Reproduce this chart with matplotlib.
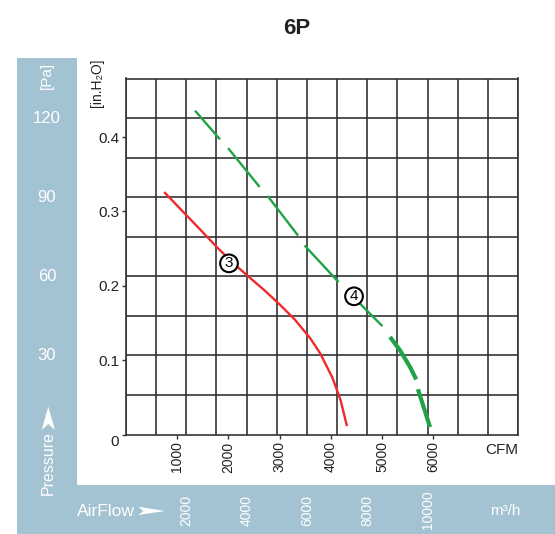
import matplotlib
matplotlib.use("Agg")
import matplotlib.pyplot as plt
from matplotlib.patches import Rectangle, Polygon
from matplotlib.transforms import blended_transform_factory
import numpy as np

plt.rcParams['font.family'] = ['Liberation Sans Narrow', 'Liberation Sans', 'DejaVu Sans']
plt.rcParams['lines.scale_dashes'] = False

# ---- data (x in m3/h, y in Pa on the chart grid) ----
red_x = [1293, 1890, 2454, 3051, 3671, 4112, 4610, 5107, 5605, 6102, 6434, 6848, 7114, 7319]
red_y = [91.6, 84.5, 77.8, 70.6, 63.8, 59.4, 54.5, 49.2, 43.5, 36.6, 30.9, 21.5, 13.1, 3.6]

green_x = [2289, 3118, 3393, 4444, 4720, 5715, 5937, 7098, 7761, 8590, 8756, 9088, 9420, 9642, 9695, 10083]
green_y = [122.8, 111.9, 108.5, 93.7, 90.1, 75.3, 71.5, 57.2, 49.6, 40.1, 37.0, 31.9, 25.6, 20.5, 16.7, 2.8]

cfm_ticks = [1000, 2000, 3000, 4000, 5000, 6000]
m3h_ticks = [2000, 4000, 6000, 8000, 10000]
inh2o_ticks = [0.1, 0.2, 0.3, 0.4]
inh2o_labels = ['0.1', '0.2', '0.3', '0.4']
pa_ticks = [30, 60, 90, 120]

CFM_TO_M3H = 1.699
INH2O_TO_GRID = 282.0

panel = '#a4c3d2'
gridc = '#333333'

W, H = 555, 534
def fx(px):
    return px / W
def fy(py):
    return 1 - py / H

fig = plt.figure(figsize=(5.55, 5.34), dpi=100)
# background panels
fig.add_artist(Rectangle((fx(16.7), 0), 60 / W, (H - 58) / H, transform=fig.transFigure,
                         facecolor=panel, edgecolor='none', zorder=0))
fig.add_artist(Rectangle((fx(16.7), 0), (W - 16.7) / W, (H - 485) / H, transform=fig.transFigure,
                         facecolor=panel, edgecolor='none', zorder=0))

ax = fig.add_axes([fx(126), fy(434.5), 392 / W, 356 / H])
ax.set_xlim(0, 13000)
ax.set_ylim(0, 135)
ax.patch.set_alpha(0)

ax.set_xticks(np.arange(0, 13001, 1000), minor=True)
ax.set_yticks(np.arange(0, 136, 15), minor=True)
ax.grid(which='minor', color=gridc, linewidth=1.2)
ax.tick_params(which='minor', length=0)
for s in ax.spines.values():
    s.set_color(gridc)
    s.set_linewidth(1.2)

ax.set_xticks([c * CFM_TO_M3H for c in cfm_ticks])
ax.set_xticklabels([str(c) for c in cfm_ticks], rotation=90, fontsize=10, color='#222222')
ax.set_yticks([0] + [v * INH2O_TO_GRID for v in inh2o_ticks])
ax.set_yticklabels(['0'] + inh2o_labels, fontsize=11, color='#222222')
ax.tick_params(which='major', direction='out', length=3, width=1, color=gridc, pad=2)
ax.get_yticklabels()[0].set_verticalalignment('top')

# curves
ax.plot(red_x, red_y, color='#ee2a2a', linewidth=1.7, zorder=3)
ax.plot(green_x[:10], green_y[:10], color='#1fa345', linewidth=1.7, zorder=3,
        linestyle=(8.6, (36, 8.6)), dash_capstyle='butt')
ax.plot(green_x[10:], green_y[10:], color='#1fa345', linewidth=3.0, zorder=3,
        linestyle=(0, (36, 7.2)), dash_capstyle='butt')

ax.text(3416, 64.9, '3', fontsize=11, ha='center', va='center', zorder=5,
        bbox=dict(boxstyle='circle,pad=0.12', fc='white', ec='black', lw=1.5))
ax.text(7562, 52.4, '4', fontsize=11, ha='center', va='center', zorder=5,
        bbox=dict(boxstyle='circle,pad=0.12', fc='white', ec='black', lw=1.5))

# title
fig.text(fx(297), fy(28), '6P', fontsize=16, fontweight='bold', ha='center', va='center', color='#222222')

# Pa axis labels
ty = blended_transform_factory(fig.transFigure, ax.transData)
for p in pa_ticks:
    fig.text(fx(47), p, str(p), transform=ty, color='white', fontsize=12, ha='center', va='center')
fig.text(fx(47), fy(75), '[Pa]', color='white', fontsize=11, rotation=90, ha='center', va='center')
fig.text(fx(48), fy(463), 'Pressure', color='white', fontsize=11.5, rotation=90, ha='center', va='center')
fig.add_artist(Polygon([(fx(41.7), fy(430)), (fx(48.3), fy(406.7)), (fx(55), fy(430)), (fx(48.3), fy(424))],
                       closed=True, transform=fig.transFigure, facecolor='white', edgecolor='none'))

fig.text(fx(97), fy(83), '[in.H\u2082O]', color='#222222', fontsize=10, rotation=90, ha='center', va='center')
fig.text(fx(502), fy(450), 'CFM', color='#222222', fontsize=11, ha='center', va='center')

# m3/h axis labels
tx = blended_transform_factory(ax.transData, fig.transFigure)
for m in m3h_ticks:
    ax.text(m, fy(510), str(m), transform=tx, color='white', fontsize=10, rotation=90,
            ha='center', va='center', clip_on=False)
fig.text(fx(77), fy(511), 'AirFlow', color='white', fontsize=12.5, ha='left', va='center')
fig.add_artist(Polygon([(fx(138.3), fy(506.7)), (fx(165), fy(511)), (fx(138.3), fy(515)), (fx(143.5), fy(511))],
                       closed=True, transform=fig.transFigure, facecolor='white', edgecolor='none'))
fig.text(fx(505), fy(511), 'm\u00b3/h', color='white', fontsize=11, ha='center', va='center')

fig.savefig('out.png', dpi=100)
